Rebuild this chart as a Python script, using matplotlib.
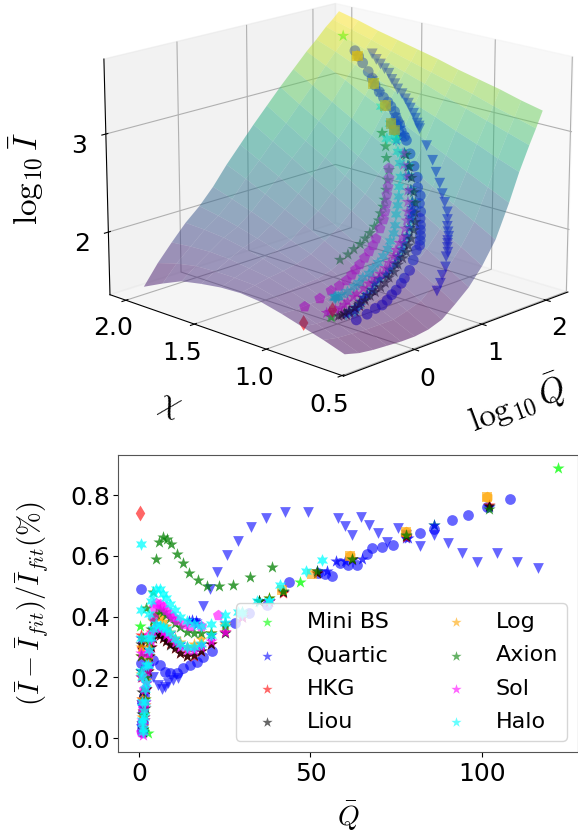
import numpy as np
import matplotlib
matplotlib.use('Agg')
import matplotlib.pyplot as plt

plt.rcParams['mathtext.fontset'] = 'cm'

# fitted surface, log10 I on a log10 Q / chi grid
q_grid = [-0.75, -0.55, -0.35, -0.15, 0.05, 0.25, 0.45, 0.65, 0.85, 1.05, 1.25, 1.45, 1.65, 1.8, 1.95, 2.05, 2.15]
chi_grid = [0.6, 0.74, 0.88, 1.02, 1.16, 1.3, 1.44, 1.58, 1.72, 1.86, 2.0]
surf_060 = [1.44, 1.40, 1.38, 1.37, 1.36, 1.36, 1.38, 1.43, 1.54, 1.66, 1.83, 2.05, 2.38, 2.66, 2.90, 3.05, 3.21]
surf_074 = [1.51, 1.48, 1.47, 1.46, 1.46, 1.46, 1.50, 1.55, 1.67, 1.79, 1.96, 2.17, 2.48, 2.74, 2.97, 3.11, 3.26]
surf_088 = [1.57, 1.55, 1.55, 1.54, 1.55, 1.56, 1.61, 1.67, 1.79, 1.92, 2.08, 2.29, 2.58, 2.83, 3.04, 3.17, 3.32]
surf_102 = [1.63, 1.62, 1.63, 1.63, 1.64, 1.66, 1.72, 1.80, 1.92, 2.04, 2.21, 2.41, 2.69, 2.91, 3.11, 3.24, 3.37]
surf_116 = [1.68, 1.68, 1.70, 1.71, 1.72, 1.76, 1.84, 1.92, 2.04, 2.17, 2.34, 2.53, 2.79, 3.00, 3.18, 3.30, 3.42]
surf_130 = [1.70, 1.73, 1.76, 1.78, 1.81, 1.86, 1.95, 2.04, 2.17, 2.30, 2.47, 2.65, 2.89, 3.08, 3.26, 3.36, 3.48]
surf_144 = [1.69, 1.74, 1.79, 1.84, 1.88, 1.94, 2.05, 2.15, 2.29, 2.43, 2.59, 2.77, 2.99, 3.16, 3.33, 3.42, 3.53]
surf_158 = [1.66, 1.74, 1.82, 1.89, 1.94, 2.03, 2.15, 2.27, 2.41, 2.56, 2.72, 2.89, 3.09, 3.25, 3.40, 3.48, 3.58]
surf_172 = [1.62, 1.73, 1.83, 1.93, 2.00, 2.11, 2.25, 2.39, 2.54, 2.68, 2.85, 3.01, 3.20, 3.33, 3.47, 3.55, 3.63]
surf_186 = [1.53, 1.69, 1.82, 1.95, 2.05, 2.18, 2.35, 2.50, 2.66, 2.81, 2.97, 3.13, 3.30, 3.42, 3.54, 3.61, 3.69]
surf_200 = [1.43, 1.63, 1.80, 1.96, 2.09, 2.25, 2.44, 2.61, 2.78, 2.94, 3.10, 3.25, 3.40, 3.50, 3.61, 3.67, 3.74]

# triangles
tri_Q = [116.2, 110.1, 104.5, 98.7, 94.3, 90, 86, 81.9, 78, 75.6, 72.2, 69.6, 67.1, 64.7, 62.2, 60.1, 58.1, 49.4, 42.6, 37.1, 32.6, 29, 25.7, 22.9, 20.7, 18.6, 16.3, 11.5, 10, 8.5, 7.6, 6.6, 5.6, 4, 2, 1, 0.5]
tri_dev = [.559, .58, .609, .58, .61, .641, .67, .632, .668, .693, .644, .674, .701, .729, .67, .698, .723, .743, .743, .725, .694, .65, .602, .548, .49, .436, .38, .197, .19, .18, .167, .16, .175, .2, .15, .1, .03]
tri_chi = [1.72, 1.68, 1.64, 1.60, 1.56, 1.53, 1.50, 1.47, 1.43, 1.40, 1.37, 1.35, 1.32, 1.30, 1.28, 1.26, 1.25, 1.17, 1.10, 1.05, 1.00, .96, .92, .88, .86, .84, .81, .74, .72, .69, .67, .64, .62, .56, .45, .33, .22]
tri_logI = [3.40, 3.36, 3.33, 3.30, 3.27, 3.22, 3.19, 3.15, 3.12, 3.08, 3.05, 3.01, 2.97, 2.93, 2.89, 2.87, 2.85, 2.72, 2.61, 2.52, 2.44, 2.36, 2.30, 2.23, 2.17, 2.12, 2.09, 2.11, 2.09, 2.09, 2.07, 2.05, 2.03, 1.99, 2.03, 2.08, 2.13]

# big circles
cir_Q = [108.2, 101.4, 96, 91.2, 86, 81.9, 78, 74.1, 70.8, 67.8, 66.4, 63.5, 61, 58.6, 56.2, 54.2, 52.3, 43.8, 37.2, 32.2, 28, 21.4, 18.8, 16.8, 14.9, 12.9, 11, 9, 7.6, 6.1, 4.2, 2.5, 2, 1.6, 1.3, 1.1, 1, .95, .85, .75, .7, .6]
cir_dev = [.787, .762, .735, .718, .687, .676, .668, .636, .63, .625, .605, .57, .57, .575, .533, .539, .542, .514, .438, .411, .378, .287, .268, .251, .24, .229, .213, .213, .218, .24, .257, .24, .2, .14, .09, .05, .03, .02, .05, .12, .246, .49]
cir_chi = [1.83, 1.79, 1.75, 1.70, 1.66, 1.63, 1.59, 1.55, 1.51, 1.48, 1.45, 1.43, 1.41, 1.39, 1.37, 1.34, 1.32, 1.26, 1.20, 1.15, 1.12, 1.05, 1.03, 1.00, .98, .95, .92, .88, .85, .81, .76, .68, .66, .65, .63, .63, .64, .66, .67, .69, .73, .77]
cir_logI = [3.40, 3.36, 3.31, 3.24, 3.19, 3.13, 3.08, 3.04, 3.01, 2.98, 2.94, 2.89, 2.86, 2.84, 2.78, 2.74, 2.71, 2.61, 2.52, 2.44, 2.36, 2.33, 2.27, 2.21, 2.16, 2.12, 2.10, 2.08, 2.06, 2.05, 2.06, 2.05, 1.98, 1.93, 1.91, 1.86, 1.82, 1.76, 1.72, 1.69, 1.62, 1.56]

# pentagons
pent_Q = [23, 18, 15, 13, 11, 10, 9, 8, 7, 6, 5, 4.5, 4, 3, 2.5, 2, 1.5, 1.2, 1, .7]
pent_dev = [.405, .37, .37, .375, .39, .40, .41, .42, .43, .44, .445, .43, .40, .34, .28, .22, .16, .10, .05, .02]
pent_chi = [1.28, 1.23, 1.20, 1.18, 1.15, 1.14, 1.13, 1.13, 1.13, 1.12, 1.11, 1.12, 1.13, 1.10, 1.09, 1.08, 1.07, 1.08, 1.12, 1.15]
pent_logI = [2.51, 2.45, 2.39, 2.33, 2.27, 2.20, 2.13, 2.05, 1.96, 1.91, 1.87, 1.81, 1.75, 1.74, 1.71, 1.68, 1.66, 1.63, 1.55, 1.49]

# upper axion arc
axion_Q = [38.7, 32.5, 27.3, 23.2, 19.9, 17.1, 14.7, 12.7, 11, 9.4, 8.1, 6.9, 5.9, 4.95, 4.2, 2, 1.2]
axion_dev = [.562, .531, .504, .502, .502, .522, .542, .575, .607, .638, .657, .663, .644, .589, .482, .427, .33]
axion_chi = [1.43, 1.37, 1.33, 1.28, 1.26, 1.24, 1.22, 1.20, 1.19, 1.17, 1.17, 1.17, 1.17, 1.17, 1.18, 1.07, 1.02]
axion_logI = [2.77, 2.67, 2.58, 2.49, 2.41, 2.33, 2.25, 2.20, 2.15, 2.10, 2.05, 2.00, 1.96, 1.92, 1.88, 1.95, 1.97]

# high Q end shared by the star families
tail_Q = [102, 78, 62, 52, 42, 35]
tail_chi = [1.80, 1.63, 1.50, 1.42, 1.36, 1.31]
tail_logI = [3.36, 3.15, 2.99, 2.85, 2.82, 2.75]
liou_tail = [.765, .665, .59, .545, .48, .45]
hkg_tail = [.768, .662, .59, .545, .478, .45]
quartic_tail = [.76, .66, .585, .55, .48, .45]
axion2_tail = [.755, .67, .59, .55, .483, .452]

# lower Q part of the star families
band_Q = [38, 30, 25, 21, 18, 16, 14, 12, 10.5, 9, 8, 7, 6, 5, 4.2, 3.5, 3, 2.5, 2, 1.7, 1.4, 1.2, 1, .85, .7, .55]
halo_dev = [.45, .415, .405, .375, .37, .375, .385, .40, .42, .44, .46, .475, .49, .49, .475, .45, .41, .33, .24, .16, .09, .03, .06, .2, .42, .64]
sol_dev = [.45, .40, .35, .32, .30, .29, .29, .30, .315, .33, .34, .35, .36, .365, .35, .32, .28, .24, .18, .12, .06, .01, .06, .12, .2, .28]
log_dev = [.46, .41, .375, .345, .325, .31, .30, .315, .33, .35, .37, .385, .40, .405, .385, .35, .31, .26, .19, .13, .08, .04, .07, .13, .21, .30]
axion2_dev = [.46, .415, .37, .345, .345, .345, .35, .365, .38, .395, .405, .415, .42, .41, .39, .36, .32, .27, .2, .13, .08, .02, .05, .12, .2, .27]
quartic_dev = [.45, .41, .38, .34, .31, .30, .30, .31, .325, .345, .36, .365, .37, .375, .36, .33, .29, .24, .18, .12, .07, .02, .05, .12, .22, .33]
hkg_dev = [.45, .40, .35, .31, .285, .27, .27, .28, .295, .31, .32, .33, .34, .345, .33, .30, .27, .22, .16, .11, .07, .09, .13, .2, .27, .34]
liou_dev = [.45, .40, .345, .31, .285, .272, .27, .28, .295, .305, .32, .33, .34, .345, .33, .30, .27, .22, .16, .10, .06, .03, .08, .15, .22, .31]
halo_chi = [1.34, 1.27, 1.22, 1.18, 1.16, 1.14, 1.12, 1.10, 1.08, 1.06, 1.06, 1.05, 1.05, 1.05, 1.05, 1.04, 1.05, 1.04, 1.03, 1.04, 1.04, 1.03, 1.01, .98, .94, .90]
halo_logI = [2.77, 2.66, 2.58, 2.47, 2.39, 2.31, 2.24, 2.17, 2.08, 2.02, 1.95, 1.89, 1.83, 1.78, 1.74, 1.71, 1.68, 1.65, 1.64, 1.60, 1.59, 1.59, 1.62, 1.65, 1.68, 1.73]
sol_chi = [1.28, 1.23, 1.18, 1.13, 1.10, 1.08, 1.06, 1.04, 1.03, 1.02, 1.02, 1.01, 1.01, 1.00, 1.00, 1.01, 1.01, 1.01, 1.01, 1.00, 1.00, .99, .98, .98, .98, .95]
sol_logI = [2.62, 2.54, 2.46, 2.35, 2.26, 2.18, 2.11, 2.05, 1.98, 1.94, 1.88, 1.83, 1.78, 1.75, 1.71, 1.68, 1.64, 1.61, 1.58, 1.57, 1.54, 1.53, 1.52, 1.52, 1.52, 1.55]
mid_chi = [1.27, 1.20, 1.16, 1.11, 1.07, 1.05, 1.03, 1.01, 1.00, .99, .98, .98, .97, .97, .96, .97, .97, .95, .94, .93, .91, .89, .88, .85, .85, .82]
mid_logI = [2.62, 2.54, 2.47, 2.36, 2.27, 2.19, 2.13, 2.07, 2.00, 1.95, 1.90, 1.84, 1.79, 1.75, 1.72, 1.69, 1.66, 1.62, 1.60, 1.59, 1.58, 1.57, 1.57, 1.57, 1.58, 1.60]
liou_chi = [1.26, 1.19, 1.14, 1.09, 1.05, 1.03, 1.00, .98, .97, .96, .95, .95, .95, .94, .94, .93, .93, .93, .92, .92, .92, .92, .92, .92, .90, .87]
liou_logI = [2.61, 2.54, 2.46, 2.35, 2.27, 2.19, 2.12, 2.06, 1.99, 1.94, 1.89, 1.84, 1.79, 1.74, 1.70, 1.67, 1.64, 1.61, 1.60, 1.57, 1.56, 1.53, 1.52, 1.52, 1.53, 1.56]

# odd points
mini_Q = [122.3, 86, 47, 2.7, 0.4]
mini_dev = [.888, .70, .515, .017, .37]
mini_chi = [1.94, 1.65, 1.36, 1.25, .85]
mini_logI = [3.51, 3.17, 2.75, 1.19, 1.59]
log_Q = [101.5, 78, 61.5, 50.5, 41.8]
log_tail = [.795, .678, .60, .54, .487]
log_chi = [1.80, 1.63, 1.50, 1.42, 1.36]
log_logI = [3.36, 3.15, 2.99, 2.85, 2.82]
halo_tail_Q = [53.3, 48.8, 41, 34.5, 29]
halo_tail = [.586, .55, .505, .452, .415]
halo_tail_chi = [1.50, 1.42, 1.36, 1.31, 1.34]
halo_tail_logI = [2.99, 2.85, 2.82, 2.75, 2.77]
quart2_Q = [57.4, 60, 65, 54.7, 86, 78.5, 14.5, 15.5, 16.5, 17]
quart2_dev = [.583, .583, .59, .55, .70, .66, .385, .39, .385, .375]
quart2_chi = [1.38, 1.40, 1.44, 1.35, 1.66, 1.59, 1.04, 1.05, 1.05, 1.06]
quart2_logI = [2.81, 2.85, 2.91, 2.75, 3.19, 3.08, 2.15, 2.18, 2.20, 2.22]
dia_Q = [0.4, 0.7]
dia_dev = [.74, .30]
dia_chi = [1.04, .96]
dia_logI = [1.44, 1.55]

legend_names = ['Mini BS', 'Quartic', 'HKG', 'Liou', 'Log', 'Axion', 'Sol', 'Halo']
legend_colors = ['lime', 'b', 'r', 'k', 'orange', 'g', 'magenta', 'cyan']

fig = plt.figure(figsize=(5.78, 8.35), dpi=100)

# ---------- top panel ----------
ax = fig.add_axes([0.134, 0.474, 0.882, 0.611], projection='3d')
ax.computed_zorder = False
ax.view_init(elev=17, azim=-136)

hexstar = (6, 1, 0)
sizes = {'*': 85, hexstar: 85, 'o': 60, 'v': 60, 'p': 70, 's': 60, 'h': 70, 'd': 65}


def add3d(Q, chi, logI, color, marker, z):
    ax.scatter(np.log10(Q), chi, logI, color=color, marker=marker, s=sizes[marker], alpha=0.6, linewidths=0, zorder=z)


add3d(mini_Q, mini_chi, mini_logI, 'lime', '*', 1)
add3d(tri_Q, tri_chi, tri_logI, 'b', 'v', 1)
add3d(cir_Q, cir_chi, cir_logI, 'b', 'o', 1)
add3d(band_Q, mid_chi, mid_logI, 'orange', '*', 2)
add3d(band_Q, mid_chi, mid_logI, 'r', '*', 2)
add3d(band_Q, mid_chi, mid_logI, 'g', '*', 2)
add3d(band_Q, mid_chi, mid_logI, 'cyan', hexstar, 2)
add3d(band_Q, mid_chi, mid_logI, 'b', '*', 2)
add3d(band_Q, liou_chi, liou_logI, 'k', '*', 2)
add3d(tail_Q, tail_chi, tail_logI, 'b', '*', 2)
add3d(quart2_Q, quart2_chi, quart2_logI, 'b', '*', 2)
add3d(axion_Q, axion_chi, axion_logI, 'g', '*', 2)
add3d(pent_Q, pent_chi, pent_logI, 'magenta', 'p', 2)
add3d(band_Q, sol_chi, sol_logI, 'magenta', '*', 2)
add3d(band_Q, halo_chi, halo_logI, 'cyan', hexstar, 3)
add3d(halo_tail_Q, halo_tail_chi, halo_tail_logI, 'cyan', hexstar, 3)
add3d(log_Q, log_chi, log_logI, 'orange', 's', 3)
add3d(log_Q, log_chi, log_logI, 'orange', 'h', 3)
add3d(dia_Q, dia_chi, dia_logI, 'r', 'd', 3)

X, Y = np.meshgrid(q_grid, chi_grid)
Z = np.array([surf_060, surf_074, surf_088, surf_102, surf_116, surf_130, surf_144, surf_158, surf_172, surf_186, surf_200])
ax.plot_surface(X, Y, Z, rstride=1, cstride=1, cmap='viridis', alpha=0.5, linewidth=0, antialiased=True, zorder=5)

ax.set_xlim(-1.0, 2.35)
ax.set_ylim(0.49, 2.12)
ax.set_zlim(1.35, 3.75)
ax.set_xticks([0, 1, 2])
ax.set_yticks([0.5, 1.0, 1.5, 2.0])
ax.set_zticks([2, 3])
ax.tick_params(axis='both', labelsize=18)
ax.tick_params(axis='x', pad=2)
ax.tick_params(axis='y', pad=2)
ax.tick_params(axis='z', pad=3)
ax.set_xlabel(r'$\log_{10}\bar{Q}$', fontsize=24, labelpad=22)
ax.set_ylabel(r'$\chi$', fontsize=24, labelpad=20)
ax.zaxis.set_rotate_label(False)
ax.set_zlabel(r'$\log_{10}\bar{I}$', fontsize=24, labelpad=12, rotation=90)

# ---------- bottom panel ----------
ax2 = fig.add_axes([0.2042, 0.0994, 0.7958, 0.3557])


def add2d(Q, dev, color, marker):
    a = 0.75 if marker in ('*', hexstar) else 0.6
    ax2.scatter(Q, dev, color=color, marker=marker, s=sizes[marker], alpha=a, linewidths=0)


add2d(mini_Q, mini_dev, 'lime', '*')
add2d(tri_Q, tri_dev, 'b', 'v')
add2d(cir_Q, cir_dev, 'b', 'o')
add2d(tail_Q, quartic_tail, 'b', '*')
add2d(band_Q, quartic_dev, 'b', '*')
add2d(quart2_Q, quart2_dev, 'b', '*')
add2d(tail_Q, hkg_tail, 'r', '*')
add2d(band_Q, hkg_dev, 'r', '*')
add2d(dia_Q, dia_dev, 'r', 'd')
add2d(tail_Q, liou_tail, 'k', '*')
add2d(band_Q, liou_dev, 'k', '*')
add2d(band_Q, log_dev, 'orange', '*')
add2d(log_Q, log_tail, 'orange', 's')
add2d(log_Q[:3], log_tail[:3], 'orange', 'h')
add2d(axion_Q, axion_dev, 'g', '*')
add2d(tail_Q, axion2_tail, 'g', '*')
add2d(band_Q, axion2_dev, 'g', '*')
add2d(pent_Q, pent_dev, 'magenta', 'p')
add2d(band_Q, sol_dev, 'magenta', '*')
add2d(band_Q, quartic_dev, 'cyan', hexstar)
add2d(band_Q, halo_dev, 'cyan', hexstar)
add2d(halo_tail_Q, halo_tail, 'cyan', hexstar)

for name, color in zip(legend_names, legend_colors):
    ax2.scatter([], [], color=color, marker='*', s=60, alpha=0.6, linewidths=0, label=name)

ax2.set_xlim(-6.1, 128)
ax2.set_ylim(-0.046, 0.932)
ax2.set_xticks([0, 50, 100])
ax2.set_yticks([0.0, 0.2, 0.4, 0.6, 0.8])
ax2.tick_params(labelsize=18)
ax2.tick_params(axis='y', pad=2)
ax2.set_xlabel(r'$\bar{Q}$', fontsize=20, labelpad=10)
ax2.set_ylabel(r'$(\bar{I}-\bar{I}_{fit})/\bar{I}_{fit}(\%)$', fontsize=20.5, labelpad=14)
for s in ax2.spines.values():
    s.set_color('#555555')
ax2.legend(ncol=2, fontsize=16, loc='lower right', labelspacing=0.6)

fig.savefig('out.png', dpi=100)
